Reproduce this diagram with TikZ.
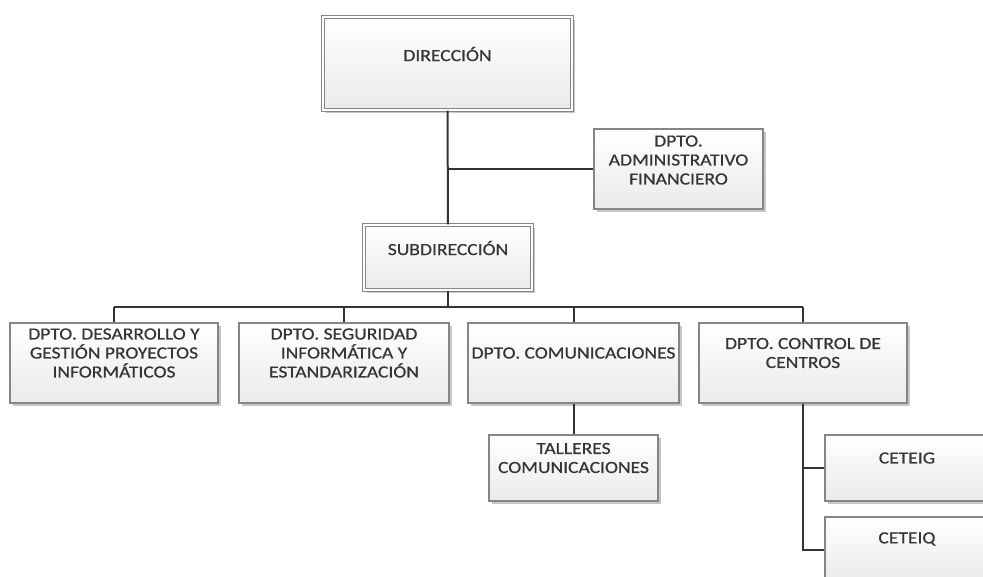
\documentclass[tikz,border=0pt]{standalone}
\usepackage{fontspec}
\setmainfont{Carlito}[FakeStretch=1.15,FakeBold=0.6]
\usetikzlibrary{shadows,calc}
\definecolor{txtc}{HTML}{353535}
\definecolor{linec}{HTML}{333333}
\definecolor{boxc}{HTML}{858585}
\definecolor{boxf}{HTML}{EAEAEA}
\begin{document}
\begin{tikzpicture}[x=1pt,y=-1pt,
  box/.style={draw=boxc, line width=1.4pt, top color=white, bottom color=boxf,
    drop shadow={shadow xshift=2.5pt, shadow yshift=-2.5pt, fill=black, opacity=0.22},
    inner sep=0pt},
  dbox/.style={box, line width=1.1pt, double=white, double distance=2pt},
  lbl/.style={text=txtc, font=\fontsize{17}{19}\selectfont\addfontfeature{FakeBold=0.6}, align=center, inner sep=0pt},
  conn/.style={draw=linec, line width=2pt}]
\clip (0,0) rectangle (983,576);
\fill[white] (0,0) rectangle (983,576);
% boxes
\node[dbox, minimum width=249pt, minimum height=93pt] (dir) at (447.5,63.5) {};
\node[box, minimum width=169pt, minimum height=80pt] (adm) at (678.5,169) {};
\node[dbox, minimum width=168pt, minimum height=65pt] (sub) at (448,257.5) {};
\node[box, minimum width=208pt, minimum height=80pt] (b1) at (114,363) {};
\node[box, minimum width=210pt, minimum height=80pt] (b2) at (344,363) {};
\node[box, minimum width=211pt, minimum height=80pt] (b3) at (573.5,363) {};
\node[box, minimum width=208pt, minimum height=80pt] (b4) at (803,363) {};
\node[box, minimum width=169pt, minimum height=66pt] (tal) at (573.5,468) {};
\node[box, minimum width=170pt, minimum height=66pt] (cg) at (910,468) {};
\node[box, minimum width=170pt, minimum height=66pt] (cq) at (910,550) {};
% texts
\node[lbl] (dirt) at (447.5,54) {DIRECCIÓN};
\node[lbl] (admt) at (678.5,160) {DPTO.\\ADMINISTRATIVO\\FINANCIERO};
\node[lbl] (subt) at (448,248) {SUBDIRECCIÓN};
\node[lbl] (b1t) at (114,353) {DPTO. DESARROLLO Y\\GESTIÓN PROYECTOS\\INFORMÁTICOS};
\node[lbl] (b2t) at (344,353) {DPTO. SEGURIDAD\\INFORMÁTICA Y\\ESTANDARIZACIÓN};
\node[lbl] (b3t) at (573.5,353) {DPTO. COMUNICACIONES};
\node[lbl] (b4t) at (803,353) {DPTO. CONTROL DE\\CENTROS};
\node[lbl] (talt) at (573.5,458) {TALLERES\\COMUNICACIONES};
\node[lbl] (cgt) at (907,458) {CETEIG};
\node[lbl] (cqt) at (907,539) {CETEIQ};
% connectors
\coordinate (bus) at (0,307);
\draw[conn] (dir.south) -- (sub.north);
\draw[conn] (adm.west -| dir.south) -- (adm.west);
\draw[conn] (sub.south) -- (sub.south |- bus);
\draw[conn] (b1.north |- bus) -- (b4.north |- bus);
\draw[conn] (b1.north |- bus) -- (b1.north);
\draw[conn] (b2.north |- bus) -- (b2.north);
\draw[conn] (b3.north |- bus) -- (b3.north);
\draw[conn] (b4.north |- bus) -- (b4.north);
\draw[conn] (b3.south) -- (tal.north);
\draw[conn] (b4.south) -- (b4.south |- cq.west) -- (cq.west);
\draw[conn] (b4.south |- cg.west) -- (cg.west);
\end{tikzpicture}
\end{document}
